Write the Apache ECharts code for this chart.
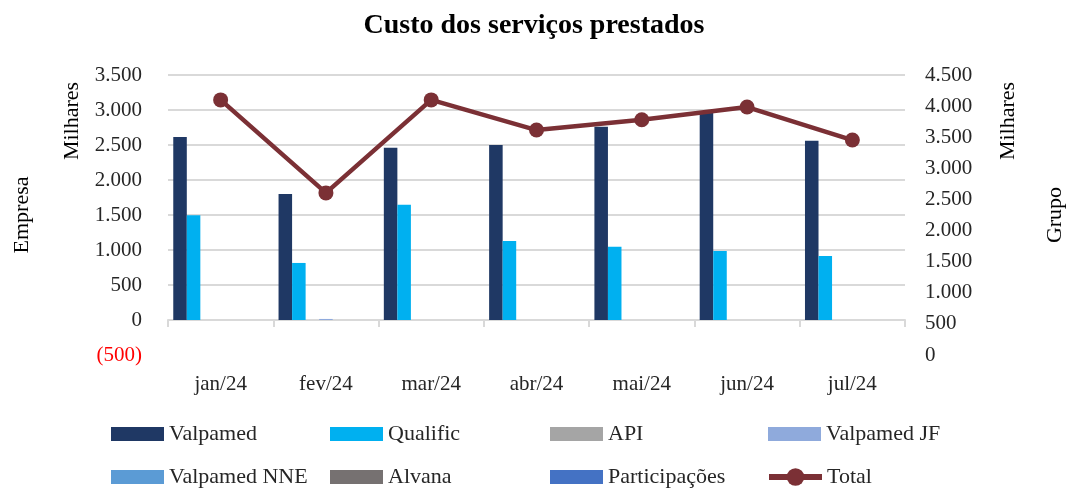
<!DOCTYPE html>
<html>
<head>
<meta charset="utf-8">
<script src="https://cdn.jsdelivr.net/npm/echarts@6/dist/echarts.min.js"></script>
<style>
html,body{margin:0;padding:0;background:#fff;}
#main{width:1068px;height:488px;}
</style>
</head>
<body>
<div id="main"></div>
<script>
var months = ['jan/24','fev/24','mar/24','abr/24','mai/24','jun/24','jul/24'];
var valpamed = [2615, 1800, 2460, 2500, 2760, 2985, 2560];
var qualific = [1495, 815, 1645, 1130, 1045, 985, 915];
var api = [0, 0, 0, 0, 0, 0, 0];
var valpamedJF = [0, 15, 0, 0, 0, 0, 0];
var valpamedNNE = [0, 0, 0, 0, 0, 0, 0];
var alvana = [0, 0, 0, 0, 0, 0, 0];
var participacoes = [0, 0, 0, 0, 0, 0, 0];
var total = [4100, 2605, 4100, 3615, 3780, 3985, 3455];

var font = 'Liberation Serif';
var txt = '#262626';
var gridColor = '#d9d9d9';
var lineColor = '#7b3035';

function fmt(v){
	var s = Math.abs(v).toString().replace(/\B(?=(\d{3})+(?!\d))/g, '.');
	return v < 0 ? '{neg|(' + s + ')}' : s;
}

var chart = echarts.init(document.getElementById('main'));

function barSeries(name, data, color){
	return {
		name: name,
		type: 'bar',
		data: data,
		yAxisIndex: 0,
		barGap: '0%',
		barCategoryGap: '10%',
		itemStyle: {color: color}
	};
}

function legendBox(left, top, names, h){
	return {
		orient: 'vertical',
		left: left,
		top: top,
		padding: 0,
		itemGap: 21,
		itemWidth: 53,
		itemHeight: h || 14,
		data: names,
		textStyle: {fontFamily: font, fontSize: 22, color: txt, lineHeight: 22}
	};
}

var option = {
	animation: false,
	backgroundColor: '#fff',
	title: {
		text: 'Custo dos serviços prestados',
		left: 'center',
		top: 12,
		padding: 0,
		textStyle: {fontFamily: font, fontSize: 28, fontWeight: 'bold', color: '#000'}
	},
	legend: [
		legendBox(111, 423, [{name:'Valpamed', icon:'rect'}, {name:'Valpamed NNE', icon:'rect'}]),
		legendBox(330, 423, [{name:'Qualific', icon:'rect'}, {name:'Alvana', icon:'rect'}]),
		legendBox(550, 423, [{name:'API', icon:'rect'}, {name:'Participações', icon:'rect'}]),
		legendBox(768, 423, [{name:'Valpamed JF', icon:'rect'}]),
		legendBox(766, 466, [{name:'Total', lineStyle: {width: 6}}], 22)
	],
	grid: {left: 168, right: 163, top: 75, bottom: 133},
	xAxis: {
		type: 'category',
		data: months,
		axisLine: {onZero: true, lineStyle: {color: gridColor, width: 2}},
		axisTick: {show: true, length: 7, lineStyle: {color: gridColor, width: 2}},
		axisLabel: {margin: 19, fontFamily: font, fontSize: 21, color: txt}
	},
	yAxis: [
		{
			type: 'value',
			min: -500, max: 3500, interval: 500,
			axisLine: {show: false},
			axisTick: {show: false},
			axisLabel: {
				margin: 26, fontFamily: font, fontSize: 21, color: txt,
				formatter: fmt,
				rich: {neg: {color: '#ff0000', fontFamily: font, fontSize: 21}}
			},
			splitLine: {show: true, showMinLine: false, lineStyle: {color: gridColor, width: 2}}
		},
		{
			type: 'value',
			min: 0, max: 4500, interval: 500,
			axisLine: {show: false},
			axisTick: {show: false},
			axisLabel: {margin: 20, fontFamily: font, fontSize: 21, color: txt, formatter: fmt},
			splitLine: {show: false}
		}
	],
	graphic: [
		{type: 'text', x: 72, y: 121, rotation: Math.PI/2,
			style: {text: 'Milhares', fontFamily: font, fontSize: 22, fill: '#000', textAlign: 'center', textVerticalAlign: 'middle'}},
		{type: 'text', x: 22, y: 215, rotation: Math.PI/2,
			style: {text: 'Empresa', fontFamily: font, fontSize: 22, fill: '#000', textAlign: 'center', textVerticalAlign: 'middle'}},
		{type: 'text', x: 1008, y: 121, rotation: Math.PI/2,
			style: {text: 'Milhares', fontFamily: font, fontSize: 22, fill: '#000', textAlign: 'center', textVerticalAlign: 'middle'}},
		{type: 'text', x: 1055, y: 215, rotation: Math.PI/2,
			style: {text: 'Grupo', fontFamily: font, fontSize: 22, fill: '#000', textAlign: 'center', textVerticalAlign: 'middle'}}
	],
	series: [
		barSeries('Valpamed', valpamed, '#1f3864'),
		barSeries('Qualific', qualific, '#00b0f0'),
		barSeries('API', api, '#a5a5a5'),
		barSeries('Valpamed JF', valpamedJF, '#8faadc'),
		barSeries('Valpamed NNE', valpamedNNE, '#5b9bd5'),
		barSeries('Alvana', alvana, '#767171'),
		barSeries('Participações', participacoes, '#4472c4'),
		{
			name: 'Total',
			type: 'line',
			yAxisIndex: 1,
			data: total,
			symbol: 'circle',
			symbolSize: 15,
			lineStyle: {color: lineColor, width: 4.5},
			itemStyle: {color: lineColor},
			z: 5
		}
	]
};

chart.setOption(option);
</script>
</body>
</html>
